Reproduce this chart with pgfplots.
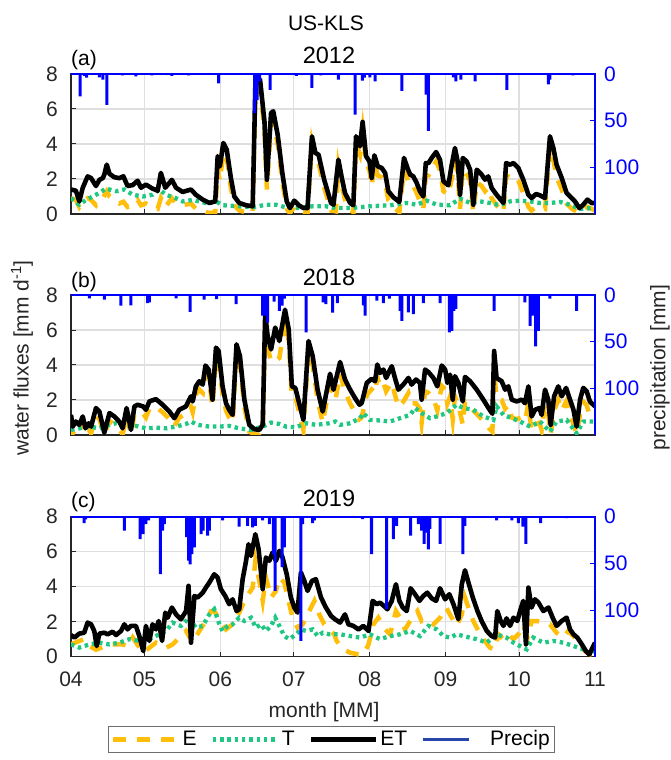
\documentclass[border=0pt]{standalone}
\usepackage{fontspec}
\setmainfont{Liberation Sans}
\usepackage{pgfplots}
\pgfplotsset{compat=1.18}
\definecolor{cE}{RGB}{255,190,10}
\definecolor{cT}{RGB}{30,200,130}
\definecolor{cP}{RGB}{0,0,255}
\definecolor{cAx}{RGB}{38,38,38}
\definecolor{cGrid}{RGB}{223,223,223}
\definecolor{cLeg}{RGB}{40,70,170}
\definecolor{cBox}{RGB}{110,110,110}

\newcommand{\tickfont}{\fontsize{21}{25}\selectfont}
\newcommand{\titlefont}{\fontsize{23.5}{28}\selectfont}

\tikzset{
  Estyle/.style={cE, line width=4.5pt, dash pattern=on 13pt off 11pt},
  Tstyle/.style={cT, line width=4.3pt, dash pattern=on 3.5pt off 3.8pt},
  ETstyle/.style={black, line width=4.6pt, line join=round},
}

\pgfplotsset{
  precipleg/.style={legend image code/.code={\draw[##1] (0pt,0pt) -- (46pt,0pt);}},
  leftax/.style={
    at={(71pt,#1)}, anchor=south west, scale only axis,
    width=524pt, height=140pt,
    xmin=0, xmax=214, ymin=0, ymax=8,
    xtick={0,30,61,91,122,153,183,214}, xticklabels={},
    ytick={0,2,4,6,8}, yticklabels={0,2,4,6,8},
    grid=major, major grid style={cGrid, line width=1.2pt},
    axis line style={cAx, line width=1.2pt},
    tick align=inside, major tick length=5pt, tick style={cAx, line width=1pt},
    xtick pos=bottom, ytick pos=left,
    ticklabel style={font=\tickfont, text=cAx},
    yticklabel style={anchor=east, inner sep=0pt, xshift=-13pt},
    xticklabel style={anchor=base, inner sep=0pt, yshift=-30pt},
  },
  rightax/.style={
    at={(71pt,#1)}, anchor=south west, scale only axis,
    width=524pt, height=140pt,
    xmin=0, xmax=214, ymin=0, ymax=150, y dir=reverse,
    hide x axis,
    axis y line*=right, y axis line style={cP, line width=1.2pt, -},
    ytick={0,50,100}, yticklabels={0,50,100},
    tick align=inside, major tick length=5pt, ytick style={cP, line width=1pt},
    yticklabel style={font=\tickfont, text=cP, anchor=west, inner sep=0pt, xshift=9pt},
    after end axis/.code={\draw[cP, line width=2pt] (axis description cs:0,1) -- (axis description cs:1,1);},
  },
}

\begin{document}
\begin{tikzpicture}
\tickfont
\path[use as bounding box] (0,0) rectangle (670pt,760pt);
\node[anchor=base] at (326pt,729pt) {US-KLS};

% ---------------- (a) 2012 ----------------
\begin{axis}[leftax=546pt]
\addplot[Estyle] coordinates {(0,0.9)(2,0.8)(3.4,0.4)(4.8,0.7)(6.8,0.9)(8.2,0.8)(10.2,0.5)(11.6,0.8)(13,0.9)(14.6,1.3)(15.7,1.0)(17.7,0.8)(19.7,0.6)(21.4,0.7)(23.1,0.4)(25.2,0.5)(27.2,0.8)(28.6,0.5)(30.6,0.6)(33.3,0.4)(35.4,0.3)(36.7,0.9)(38.5,0.4)(41.2,0.9)(42.9,0.6)(45.6,0.5)(49,0.6)(51,0.3)(53.8,0.2)(56.5,0.05)(58.9,0.1)(59.9,2.5)(60.8,1.9)(62.2,3.5)(63.6,3.2)(65.3,1.5)(66.7,0.5)(68.7,0.2)(71.5,0.1)(74.2,0.05)(75.3,6.9)(77.2,7.2)(79,4.8)(80,1.4)(81.7,5.2)(82.6,5.3)(84.4,4.0)(86.4,1.8)(88.1,0.3)(89.4,0.05)(91.2,0.4)(93,0.15)(94.9,0.05)(96.6,0.05)(98.4,4.0)(99.8,3.0)(101.1,2.9)(103.4,1.5)(106.2,0.2)(108.2,0.15)(109.2,2.7)(110.6,1.6)(111.9,0.8)(114,0.25)(115.3,0.1)(116.4,4.0)(118,3.4)(119.1,4.8)(120.5,2.9)(121.9,2.5)(122.8,1.6)(123.9,2.9)(125.3,2.2)(126.9,2.1)(128.3,1.8)(129.6,0.8)(131.7,0.4)(134.1,0.1)(136,2.6)(137.4,2.0)(138.5,1.6)(139.8,1.6)(141.2,1.2)(142.5,0.7)(143.9,0.3)(144.9,2.2)(146,2.2)(147.3,2.6)(149.1,3.0)(150.7,2.5)(152.1,1.3)(154.1,1.1)(155.5,2.0)(156.8,3.0)(157.9,2.3)(158.9,0.3)(160,2.6)(161.6,2.3)(163,1.9)(164.3,0.1)(165.7,1.8)(167.7,1.6)(169.1,1.3)(170.4,1.5)(171.8,0.9)(173.8,0.5)(175.5,0.2)(176.6,0.1)(177.7,2.2)(179.3,2.1)(180.7,2.2)(182.7,1.9)(184.7,1.2)(186.8,0.4)(188.1,0.2)(189.9,0.4)(191.5,0.4)(193.6,0.3)(195.6,3.8)(197,3.1)(198.3,2.1)(200.4,1.4)(202.4,0.6)(204.5,0.3)(205.8,0.2)(207.6,0.05)(209.2,0.2)(210.9,0.4)(212.6,0.3)(214,0.2)};
\addplot[Tstyle] coordinates {(0,0.9)(3.4,0.53)(6.1,0.8)(10.2,1.1)(14.3,1.45)(18.4,1.3)(21.8,1.4)(25.2,1.1)(29.3,1.0)(33.3,1.1)(36.1,1.4)(38.8,1.1)(42.9,0.9)(45.6,0.72)(49.7,0.8)(55.1,0.63)(59.2,0.72)(62,0.5)(68.7,0.44)(74.2,0.38)(79.6,0.53)(83.7,0.53)(87.8,0.38)(93.2,0.34)(98.7,0.44)(104.1,0.44)(108.2,0.34)(114,0.34)(122.1,0.44)(130.3,0.5)(137.1,0.63)(141.2,0.53)(145.3,0.76)(149.4,0.53)(154.8,0.5)(158.9,0.88)(163,0.63)(167,0.72)(171.1,0.63)(175.2,0.5)(179.3,0.72)(183.4,0.76)(187.5,0.72)(191.5,0.63)(195.6,0.63)(199.7,0.69)(203.8,0.53)(207.9,0.3)(214,0.34)};
\addplot[ETstyle] coordinates {(0,1.4)(2,1.33)(3.4,0.72)(4.8,1.5)(6.8,2.15)(8.2,2.05)(10.2,1.6)(11.6,1.95)(13,2.05)(13.6,2.25)(14.6,2.82)(15.7,2.3)(17.7,2.1)(19.7,2.05)(21.4,2.15)(23.1,1.6)(25.2,1.65)(27.2,1.9)(28.6,1.5)(30.6,1.68)(33.3,1.45)(35.4,1.33)(36.7,2.35)(38.5,1.5)(41.2,1.95)(42.9,1.5)(45.6,1.26)(49,1.4)(51,1.1)(53.8,0.82)(56.5,0.63)(58.9,0.72)(59.9,3.3)(60.8,2.72)(62.2,4.06)(63.6,3.68)(65.3,2.05)(66.7,1.0)(68.7,0.63)(71.5,0.5)(74.2,0.44)(75.3,7.4)(77.2,7.68)(79,5.3)(80,1.96)(81.7,5.77)(82.6,5.87)(84.4,4.53)(86.4,2.25)(88.1,0.72)(89.4,0.34)(91.2,0.76)(93,0.5)(94.9,0.34)(96.6,0.34)(98.4,4.44)(99.8,3.49)(101.1,3.39)(103.4,1.96)(106.2,0.63)(107.2,0.53)(109.2,3.1)(110.6,2.06)(111.9,1.2)(114,0.63)(115.3,0.5)(116.4,4.44)(118,3.87)(119.1,5.26)(120.5,3.3)(121.9,3.0)(122.8,2.06)(123.9,3.35)(125.3,2.72)(126.9,2.63)(128.3,2.34)(129.6,1.3)(131.7,0.95)(134.1,0.69)(136,3.2)(137.4,2.63)(138.5,2.25)(139.8,2.15)(141.2,1.77)(142.5,1.3)(143.9,1.0)(144.9,2.91)(146,2.91)(147.3,3.2)(149.1,3.54)(150.7,3.1)(152.1,1.87)(154.1,1.64)(155.5,2.82)(156.8,3.77)(157.9,3.0)(158.9,1.1)(160,3.2)(161.6,3.0)(163,2.53)(164.3,0.53)(165.7,2.53)(167.7,2.25)(169.1,1.96)(170.4,2.15)(171.8,1.49)(173.8,1.1)(175.5,0.82)(176.6,0.63)(177.7,2.91)(179.3,2.82)(180.7,2.91)(182.7,2.63)(184.7,1.96)(186.8,1.1)(188.1,0.91)(189.9,1.14)(191.5,1.07)(193.6,0.91)(195.6,4.44)(197,3.77)(198.3,2.82)(200.4,2.06)(202.4,1.2)(204.5,0.91)(205.8,0.72)(207.6,0.34)(209.2,0.53)(210.9,0.82)(212.6,0.63)(214,0.63)};
\end{axis}
\begin{axis}[rightax=546pt]
\addplot[ybar, bar width=3pt, fill=cP, draw=none] coordinates {(3.7,24)(5.5,2)(6.4,4)(11.6,3.5)(13,6)(14.6,33)(21,1.5)(26.5,2.5)(33,1.5)(41.2,2)(48,1.5)(60.3,10)(75,42)(76,28)(77,8)(81.3,17)(92,2)(98.4,15)(102,1.5)(109.2,6)(116,43.5)(119,7)(119.8,4)(122.1,3.5)(124.2,8)(135.1,18)(145,22)(146,61)(156.2,3.5)(157.2,8)(159.2,6)(165,8)(178,17)(195,11)(195.6,6)(205,1.5)};
\end{axis}
\node[anchor=base] at (329pt,696.5pt) {\titlefont 2012};
\node[anchor=base west, inner sep=0pt] at (71pt,694.7pt) {(a)};

% ---------------- (b) 2018 ----------------
\begin{axis}[leftax=325pt,
  ylabel={water fluxes [mm d\textsuperscript{-1}]},
  ylabel style={font=\tickfont, text=cAx, at={(axis description cs:-0.0935,0.55)}, anchor=center}]
\addplot[Estyle] coordinates {(0,0.7)(0.7,0.1)(2,0.4)(3.4,0.2)(4.8,0.7)(5.9,0.05)(7.2,0.3)(8.2,0.1)(10.2,1.1)(11.6,0.9)(13.6,0.05)(15.7,0.8)(17.7,0.6)(19.7,0.3)(21.1,0.05)(22.7,1.1)(24.5,0.05)(25.9,1.2)(27.2,1.3)(29.5,1.2)(30.6,1.0)(32,1.5)(34.7,1.6)(37.4,1.3)(40.2,0.9)(42.2,0.5)(44.2,1.0)(46.9,1.2)(49,1.6)(49.7,1.3)(51,2.3)(52.4,2.6)(53.8,2.4)(54.9,3.5)(56.2,3.3)(57.8,1.6)(59.2,4.5)(60.3,4.3)(61.9,2.3)(63.3,1.4)(64.6,1.0)(66,0.7)(67.6,4.7)(69,4.1)(70.8,1.6)(72.8,0.2)(74.9,0.05)(76.9,0.0)(78.3,0.2)(79.3,6.3)(80.3,5.0)(81.7,4.2)(83.4,4.2)(85.1,4.4)(87.4,6.5)(88.9,5.4)(90.2,2.2)(91.6,2.2)(93,1.4)(94.9,0.3)(97,4.8)(98.7,4.0)(100.7,2.0)(102.8,0.7)(104.8,2.2)(106.8,2.8)(108,2.0)(109.9,3.5)(111.9,2.5)(114,1.8)(116,1.3)(117.8,0.9)(118.7,1.0)(120.8,2.3)(122.8,2.6)(124.2,2.4)(125.1,3.3)(126.2,2.8)(127.6,3.0)(128.7,2.5)(130,2.8)(131,3.0)(132.3,2.3)(133.7,1.6)(135.7,1.9)(137.8,2.4)(139.1,1.8)(140.9,1.8)(142.5,1.5)(143.2,0.7)(144.6,2.5)(146,2.4)(148,2.1)(149.6,1.4)(151.4,2.8)(152.8,2.6)(153.7,1.8)(154.8,2.2)(155.9,0.9)(156.8,2.2)(158.2,1.7)(160,0.6)(160.9,1.9)(163,1.6)(165.7,1.2)(168.4,0.8)(170.5,0.4)(172.1,0.2)(172.8,3.6)(173.8,2.1)(175.9,2.0)(177.3,1.5)(178.6,1.7)(180,1.0)(182,0.9)(184.1,1.0)(185.4,0.8)(186.8,1.8)(188.1,0.2)(189.5,0.6)(191.3,0.7)(192.2,0.3)(193.6,1.8)(194.9,1.2)(195.9,0.05)(197.3,1.4)(199,2.0)(200.4,1.4)(202.2,1.9)(203.8,1.2)(205.2,0.6)(206.5,0.05)(207.9,1.2)(209.2,1.9)(210.6,1.7)(211.9,1.1)(214,0.9)};
\addplot[Tstyle] coordinates {(0,0.29)(3.4,0.38)(7.5,0.48)(11.6,0.38)(15.6,0.58)(18.4,0.67)(22.5,0.48)(26.5,0.52)(30.6,0.38)(34.7,0.42)(38.8,0.38)(42.9,0.48)(47,0.63)(49,0.77)(51.7,0.58)(56.5,0.48)(60.6,0.48)(64.6,0.52)(68.7,0.38)(73.5,0.29)(78.3,0.48)(81.7,0.71)(85.1,0.63)(87.8,0.48)(91.9,0.44)(96,0.67)(100,0.58)(105.5,0.67)(108,0.77)(109.9,0.58)(114,0.67)(118,0.96)(119.4,1.25)(122.1,0.86)(126.2,0.83)(130.3,0.77)(134.4,0.96)(138.5,1.15)(140.5,1.54)(143.2,1.25)(146.6,0.96)(149.4,1.06)(153.4,1.25)(157.5,1.73)(160.2,1.54)(164.3,1.44)(168.4,1.06)(172.5,0.86)(173.8,1.63)(176.6,1.15)(180,0.96)(183.4,0.77)(187.5,0.48)(191.5,0.77)(195.6,0.19)(198.3,0.77)(202.4,0.86)(206.5,0.1)(209.2,0.77)(214,0.77)};
\addplot[ETstyle] coordinates {(0,1.15)(0.7,0.48)(2,0.77)(3.4,0.58)(4.8,1.06)(5.9,0.38)(7.2,0.67)(8.2,0.48)(10.2,1.54)(11.6,1.34)(13.6,0.13)(15.7,1.25)(17.7,1.06)(19.7,0.77)(21.1,0.38)(22.7,1.54)(24.5,0.29)(25.9,1.63)(27.2,1.73)(29.5,1.63)(30.6,1.44)(32,1.92)(34.7,2.05)(37.4,1.73)(40.2,1.34)(42.2,0.96)(44.2,1.44)(46.9,1.63)(49,2.21)(49.7,1.92)(51,2.78)(52.4,3.07)(53.8,2.88)(54.9,3.97)(56.2,3.74)(57.8,2.02)(59.2,4.99)(60.3,4.8)(61.9,2.78)(63.3,1.82)(64.6,1.44)(66,1.15)(67.6,5.18)(69,4.51)(70.8,2.02)(72.8,0.58)(74.9,0.33)(76.9,0.29)(78.3,0.58)(79.3,6.91)(80.3,5.66)(81.7,4.89)(83.4,6.14)(85.1,5.37)(87.4,7.16)(88.9,6.05)(90.2,2.78)(91.6,2.69)(93,1.92)(94.9,0.86)(97,5.37)(98.7,4.51)(100.7,2.59)(102.8,1.34)(104.8,2.78)(105.8,3.5)(107.2,2.59)(109.9,4.17)(111.9,3.17)(114,2.59)(116,2.11)(117.8,1.73)(118.7,1.82)(120.8,2.98)(122.8,3.21)(124.2,3.07)(125.1,4.03)(126.2,3.55)(127.6,3.74)(128.7,3.26)(130,3.65)(131,3.93)(132.3,3.26)(133.7,2.59)(135.7,2.88)(137.8,3.26)(139.1,2.88)(140.9,3.17)(142.5,2.98)(143.2,2.02)(144.6,3.74)(146,3.59)(148,3.26)(149.6,2.78)(151.4,3.97)(152.8,3.74)(153.7,2.98)(154.8,3.45)(155.9,2.02)(156.8,3.36)(158.2,2.98)(160,1.92)(160.9,3.32)(163,3.07)(165.7,2.59)(168.4,2.02)(170.5,1.54)(172.1,1.21)(172.8,4.8)(173.8,3.26)(175.9,3.07)(177.3,2.59)(178.6,2.78)(180,2.02)(182,1.92)(184.1,2.02)(185.4,1.82)(186.8,2.78)(188.1,1.06)(189.5,1.44)(191.3,1.54)(192.2,1.15)(193.6,2.59)(194.9,2.02)(195.9,0.58)(197.3,2.21)(199,2.78)(200.4,2.21)(202.2,2.69)(203.8,2.02)(205.2,1.44)(206.5,0.48)(207.9,2.02)(209.2,2.69)(210.6,2.5)(211.9,1.92)(214,1.63)};
\end{axis}
\begin{axis}[rightax=325pt,
  ylabel={precipitation [mm]},
  ylabel style={font=\tickfont, text=cAx, at={(axis description cs:1.124,0.48)}, anchor=center}]
\addplot[ybar, bar width=3pt, fill=cP, draw=none] coordinates {(7.5,3.6)(13.6,5)(20.4,11.5)(24.5,11)(31.3,8.6)(32,8)(42.9,3.6)(48.6,18)(54.4,5)(59.5,4.3)(67.4,9.7)(78.3,22)(79,22)(79.6,15)(80.3,29.5)(83,7)(85.1,17)(86.2,11.5)(87.1,4)(96,40)(103,8)(104.1,9.7)(106.8,19)(108.8,8.6)(119.4,11)(120.1,22)(124.9,6)(127.6,8.6)(130,4)(134.4,17)(135.1,27.7)(137.8,18.7)(139.8,20.5)(143.9,8.6)(150.7,8.6)(154.5,40)(155.5,38.5)(156.4,17)(157.2,15)(172.8,17)(185.4,8)(187.5,33)(188.5,22)(189.8,55)(190.9,38.5)(195.6,4)(206.5,17)};
\end{axis}
\node[anchor=base] at (329pt,474.5pt) {\titlefont 2018};
\node[anchor=base west, inner sep=0pt] at (71pt,472.5pt) {(b)};

% ---------------- (c) 2019 ----------------
\begin{axis}[leftax=103.3pt,
  xticklabels={04,05,06,07,08,09,10,11},
  xlabel={month [MM]},
  xlabel style={font=\tickfont, text=cAx, at={(axis description cs:0.483,0)}, anchor=base, yshift=-61pt},
  legend style={at={(axis description cs:0.497,-0.493)}, anchor=north, draw=cBox, line width=1pt,
    font=\tickfont, legend columns=4, /tikz/every even column/.append style={column sep=12pt}},
  legend image code/.code={\draw[#1] (0pt,0pt) -- (65pt,0pt);},
]
\addplot[Estyle] coordinates {(0,0.7)(3.4,0.9)(5.4,1.0)(7.5,0.61)(10.2,0.4)(15.6,0.7)(21.1,0.7)(23.1,0.61)(25.2,1.1)(29.3,0.23)(32,0.51)(34.7,0.8)(38.8,0.51)(41.5,0.7)(44.9,1.18)(47,1.47)(49.7,0.8)(52.4,1.47)(55.1,2.04)(57.2,2.61)(58.5,2.61)(60.6,2.14)(63.3,1.56)(66,1.85)(68.7,2.52)(71.5,3.38)(74.2,3.95)(75.3,5.48)(76.9,4.33)(78.3,3.19)(79.6,4.52)(81.7,3.38)(83.7,3.76)(85.1,4.52)(87.1,4.24)(88.5,3.38)(90.5,2.23)(92.5,1.66)(94.6,1.85)(97.3,2.61)(99.4,3.19)(101.4,2.42)(103.4,1.85)(105.5,1.56)(107.5,1.28)(108.5,0.9)(111.2,0.42)(114,0.23)(117.4,0.13)(119.4,0.13)(121.5,0.7)(123.5,1.85)(125.5,2.23)(128.3,1.56)(130.3,1.28)(132.7,2.61)(134.4,2.23)(136.4,1.56)(138.5,2.04)(141.5,2.61)(143.2,2.04)(145.3,2.14)(148,1.85)(150.7,2.23)(153.2,2.81)(155.1,2.33)(157.5,1.76)(159.6,2.42)(160.9,3.38)(162.3,2.81)(164.3,2.04)(166.4,1.47)(168.4,1.0)(171.1,0.52)(173.2,0.42)(174.5,1.28)(176.6,1.0)(178.6,1.28)(180.7,1.0)(182.7,1.28)(184.7,1.85)(186.4,1.09)(188.1,2.04)(190.2,2.04)(192.9,1.95)(195.6,1.85)(198.3,1.37)(201,1.09)(203.1,1.47)(205.2,1.18)(207.9,0.8)(209.9,0.32)(212,0.13)(214,0.32)};
\addlegendentry{E}
\addplot[Tstyle] coordinates {(0,0.7)(3.4,0.52)(7.5,0.7)(11.6,0.8)(15.7,0.7)(19.7,0.8)(23.8,1.0)(27.9,0.9)(32,1.0)(36.1,1.28)(38.8,1.47)(41.5,1.95)(44.9,1.76)(48.3,2.23)(51,1.66)(53.8,1.76)(56.5,2.42)(58.5,2.71)(60.6,1.85)(61.9,1.47)(64,1.76)(66,1.85)(68.7,2.23)(70.8,2.04)(73.5,2.23)(75.5,1.66)(77.6,1.85)(79.6,1.47)(81.7,1.76)(83.4,2.23)(85.1,1.76)(87.1,1.18)(89.2,1.0)(91.9,1.28)(93.9,1.56)(96,1.47)(98.7,1.56)(100.7,1.18)(102.8,1.37)(105.5,1.28)(109.9,1.28)(114,1.18)(118.1,1.09)(122.1,1.28)(126.2,1.0)(130.3,1.18)(134.4,1.28)(138.5,1.47)(142.5,1.18)(146,1.76)(149.4,1.56)(152.1,1.18)(154.8,1.09)(157.5,1.28)(160.2,1.18)(163,1.09)(165.7,1.0)(169.8,0.8)(173.8,1.28)(177.9,1.09)(180.7,0.8)(183.4,0.61)(186.1,0.42)(188.8,1.09)(192.9,0.8)(197,0.9)(201.1,0.8)(205.2,0.61)(209.2,0.42)(212,0.13)(214,0.32)};
\addlegendentry{T}
\addplot[ETstyle] coordinates {(0,1.24)(1.4,1.09)(3.4,1.32)(5.4,1.37)(6.8,1.95)(8.2,1.85)(9.5,1.47)(10.5,0.61)(11.6,1.32)(13.6,1.37)(15,1.28)(17,1.43)(18.4,1.24)(20.4,1.47)(21.8,1.85)(23.1,1.56)(24.5,1.76)(26.5,1.76)(27.9,1.18)(29.5,0.32)(30.6,1.76)(32,0.9)(33.3,1.85)(34.7,1.56)(35.8,2.04)(37.2,0.9)(38.5,2.52)(39.5,2.23)(41.2,2.81)(42.9,2.42)(44.9,2.14)(47,2.61)(48,4.05)(49,0.8)(50.4,3.47)(51.7,3.38)(53.8,3.66)(55.1,3.95)(56.5,4.24)(58.5,4.71)(59.9,4.52)(61.2,3.86)(63,3.47)(64.6,3.0)(66,3.28)(67.6,2.61)(68.7,2.71)(70.1,4.43)(71.5,5.48)(72.5,6.43)(73.5,5.76)(75.3,7.0)(76.6,6.15)(78.3,3.86)(79.6,5.67)(81,5.48)(82.3,5.95)(83.7,5.48)(85.1,6.05)(86.4,5.67)(88.1,4.71)(89.8,3.38)(91.2,2.81)(92.5,2.52)(93.9,4.81)(95.3,4.33)(96.6,3.76)(98.4,4.33)(100,4.43)(102.1,3.38)(104.1,2.81)(106.2,2.33)(107.8,2.14)(109.9,1.95)(111.9,2.42)(113.3,1.85)(115.3,1.76)(117.4,1.56)(119.4,1.76)(121.5,1.47)(123.2,3.19)(124.9,3.0)(126.2,3.09)(127.8,2.9)(129.2,2.71)(131,3.19)(132.7,4.14)(134.1,3.19)(135.5,2.81)(137.1,2.61)(138.7,3.91)(140.5,3.57)(142.3,3.19)(143.9,3.47)(145.5,3.66)(147.3,3.34)(149.1,3.19)(150.7,3.91)(152.8,3.28)(154.5,3.57)(156.2,3.0)(158.2,2.14)(159.6,4.14)(160.9,4.94)(162.3,4.24)(164.1,3.38)(166,2.61)(167.7,2.04)(169.8,1.47)(171.8,1.18)(173.2,1.09)(174.1,2.61)(175.5,2.04)(176.6,1.76)(177.9,2.19)(179.3,1.76)(180.7,2.23)(182.3,2.04)(183.4,2.61)(184.7,3.19)(185.8,0.71)(186.8,3.95)(188.1,2.81)(189.5,3.28)(190.9,3.09)(192.9,2.61)(195,2.81)(196.7,2.23)(198.3,1.76)(200.4,2.04)(202.4,2.23)(203.8,1.56)(205.2,1.28)(206.8,1.09)(208.6,0.71)(210.3,0.32)(211.7,0.13)(213,0.52)(214,0.8)};
\addlegendentry{ET}
\addlegendimage{cLeg, line width=3pt, precipleg}
\addlegendentry{\hspace{18pt}Precip}
\end{axis}
\begin{axis}[rightax=103.3pt]
\addplot[ybar, bar width=3pt, fill=cP, draw=none] coordinates {(5.4,7)(6,3)(21.8,15)(28.2,24)(29.5,18.6)(30.6,8)(31.7,4)(36.5,61.6)(37.4,15)(38.1,8)(47.2,22)(48,47)(48.6,51)(49.4,40)(50.4,33)(53.1,18.6)(54,15)(55.8,20.4)(56.5,15)(61.9,4)(68.7,10.7)(72.1,9.7)(74.2,11.5)(75.3,9.7)(78.3,4)(81,8)(82.6,40)(83.4,79.5)(86.2,54)(87.1,33)(93.9,133)(94.6,8)(98.7,7)(99.4,4)(119.1,2.5)(122.8,40)(128.9,99)(131.7,24)(133,9.7)(138.7,20.4)(141.9,8)(143.2,15)(144.2,29)(145.3,17)(146,35)(146.6,13)(150.7,29)(160,40)(160.9,9.7)(173.8,4)(180,4)(182.7,7)(184.5,10.7)(185.8,29)(191.8,7)(202.4,1.5)};
\end{axis}
\node[anchor=base] at (329pt,253pt) {\titlefont 2019};
\node[anchor=base west, inner sep=0pt] at (71pt,252.4pt) {(c)};
\end{tikzpicture}
\end{document}
